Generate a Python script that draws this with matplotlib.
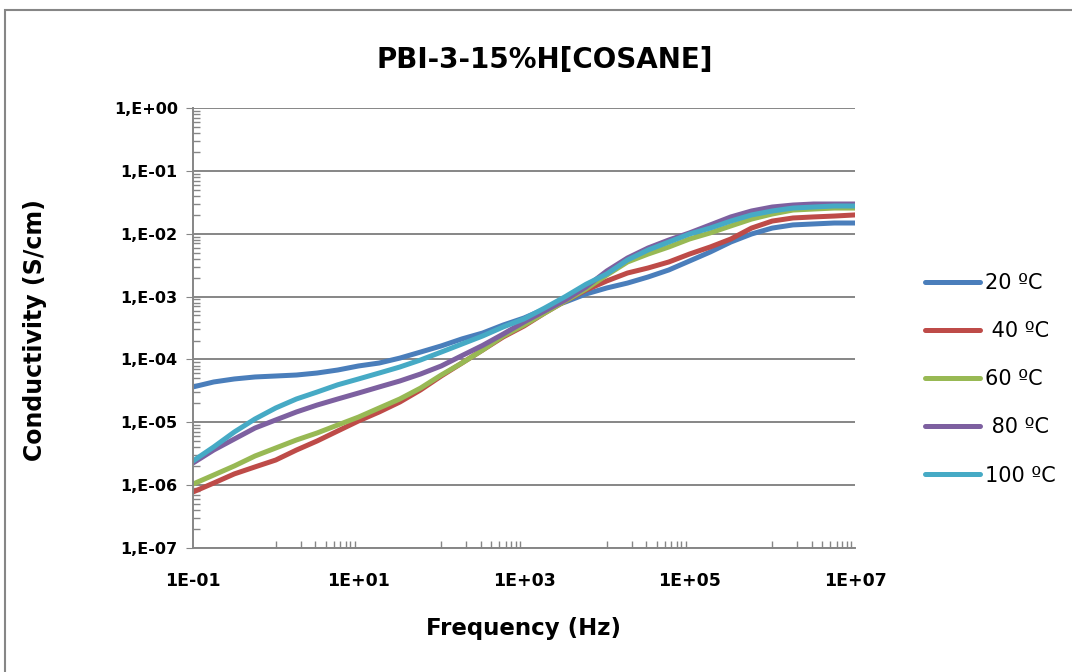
import numpy as np
import matplotlib
matplotlib.use("Agg")
import matplotlib.pyplot as plt
from matplotlib.patches import Rectangle
from matplotlib.ticker import FixedLocator, NullFormatter

plt.rcParams['font.family'] = ['DejaVu Sans']

# Frequency points (Hz), quarter-decade steps
freq = [1e-1, 1.78e-1, 3.16e-1, 5.62e-1, 1e0, 1.78e0, 3.16e0, 5.62e0,
        1e1, 1.78e1, 3.16e1, 5.62e1, 1e2, 1.78e2, 3.16e2, 5.62e2,
        1e3, 1.78e3, 3.16e3, 5.62e3, 1e4, 1.78e4, 3.16e4, 5.62e4,
        1e5, 1.78e5, 3.16e5, 5.62e5, 1e6, 1.78e6, 3.16e6, 5.62e6, 1e7]

# Conductivity (S/cm) per temperature
cond_20 = [3.65e-5, 4.38e-5, 4.89e-5, 5.26e-5, 5.45e-5, 5.65e-5, 6.08e-5, 6.79e-5,
           7.87e-5, 8.77e-5, 1.05e-4, 1.31e-4, 1.64e-4, 2.12e-4, 2.63e-4, 3.53e-4,
           4.56e-4, 6.34e-4, 8.2e-4, 1.10e-3, 1.37e-3, 1.64e-3, 2.05e-3, 2.65e-3,
           3.68e-3, 5.12e-3, 7.38e-3, 9.9e-3, 1.23e-2, 1.38e-2, 1.43e-2, 1.48e-2, 1.48e-2]
cond_40 = [7.78e-7, 1.08e-6, 1.51e-6, 1.95e-6, 2.51e-6, 3.62e-6, 5.04e-6, 7.28e-6,
           1.05e-5, 1.46e-5, 2.10e-5, 3.27e-5, 5.45e-5, 8.77e-5, 1.41e-4, 2.28e-4,
           3.40e-4, 5.48e-4, 8.51e-4, 1.27e-3, 1.77e-3, 2.37e-3, 2.85e-3, 3.55e-3,
           4.75e-3, 6.15e-3, 8.24e-3, 1.23e-2, 1.59e-2, 1.78e-2, 1.85e-2, 1.91e-2, 1.99e-2]
cond_60 = [1.04e-6, 1.45e-6, 2.02e-6, 2.91e-6, 3.90e-6, 5.23e-6, 6.76e-6, 9.06e-6,
           1.21e-5, 1.69e-5, 2.35e-5, 3.5e-5, 5.65e-5, 8.77e-5, 1.41e-4, 2.36e-4,
           3.53e-4, 5.48e-4, 8.51e-4, 1.32e-3, 2.20e-3, 3.55e-3, 4.75e-3, 6.15e-3,
           8.24e-3, 1.03e-2, 1.33e-2, 1.71e-2, 2.06e-2, 2.38e-2, 2.47e-2, 2.56e-2, 2.56e-2]
cond_80 = [2.25e-6, 3.62e-6, 5.42e-6, 8.11e-6, 1.09e-5, 1.46e-5, 1.88e-5, 2.35e-5,
           2.92e-5, 3.65e-5, 4.54e-5, 5.86e-5, 7.87e-5, 1.15e-4, 1.67e-4, 2.54e-4,
           3.94e-4, 5.90e-4, 8.83e-4, 1.42e-3, 2.55e-3, 4.11e-3, 5.93e-3, 7.94e-3,
           1.03e-2, 1.38e-2, 1.85e-2, 2.30e-2, 2.66e-2, 2.86e-2, 2.97e-2, 2.97e-2, 2.97e-2]
cond_100 = [2.42e-6, 4.05e-6, 7.01e-6, 1.13e-5, 1.69e-5, 2.35e-5, 3.03e-5, 3.95e-5,
            4.89e-5, 6.08e-5, 7.58e-5, 9.8e-5, 1.31e-4, 1.76e-4, 2.36e-4, 3.29e-4,
            4.41e-4, 6.58e-4, 1.0e-3, 1.57e-3, 2.29e-3, 3.82e-3, 5.51e-3, 7.38e-3,
            9.9e-3, 1.23e-2, 1.59e-2, 1.99e-2, 2.30e-2, 2.56e-2, 2.66e-2, 2.76e-2, 2.76e-2]

labels = ["20 ºC", " 40 ºC", "60 ºC", " 80 ºC", "100 ºC"]
colors = ["#4A7EBB", "#BE4B48", "#98B954", "#7D60A0", "#46AAC5"]

x_ticks = [1e-1, 1e1, 1e3, 1e5, 1e7]
x_ticklabels = ["1E-01", "1E+01", "1E+03", "1E+05", "1E+07"]
y_ticks = [1e-7, 1e-6, 1e-5, 1e-4, 1e-3, 1e-2, 1e-1, 1e0]
y_ticklabels = ["1,E-07", "1,E-06", "1,E-05", "1,E-04", "1,E-03", "1,E-02", "1,E-01", "1,E+00"]

grey = "#868686"
W, H = 1072, 672

fig = plt.figure(figsize=(W / 100, H / 100), dpi=100)
# chart-area border (left and top edges visible, the rest runs off the picture)
fig.patches.append(Rectangle((5 / W, -0.05), 1.1, 1 - 10 / H + 0.05,
                             transform=fig.transFigure, fill=False,
                             edgecolor=grey, linewidth=1.5))

ax = fig.add_axes([193 / W, 1 - 548 / H, 662 / W, 440 / H])

for ys, lab, col in zip([cond_20, cond_40, cond_60, cond_80, cond_100], labels, colors):
    ax.plot(freq, ys, color=col, linewidth=3.6, label=lab,
            solid_capstyle='round', solid_joinstyle='round')

ax.set_xscale('log')
ax.set_yscale('log')
ax.set_xlim(1e-1, 1e7)
ax.set_ylim(1e-7, 1e0)

ax.set_xticks(x_ticks)
ax.set_xticklabels(x_ticklabels, fontsize=12.5, fontweight='bold')
ax.set_yticks(y_ticks)
ax.set_yticklabels(y_ticklabels, fontsize=11.5, fontweight='bold')

# Excel-style minor ticks: x only in the unlabeled odd decades
x_minor = [m * 10.0 ** d for d in (0, 2, 4, 6) for m in range(1, 10)]
ax.xaxis.set_minor_locator(FixedLocator(x_minor))
ax.xaxis.set_minor_formatter(NullFormatter())
ax.yaxis.set_minor_locator(FixedLocator([m * 10.0 ** d for d in range(-7, 0) for m in range(2, 10)]))
ax.yaxis.set_minor_formatter(NullFormatter())

ax.tick_params(axis='y', which='major', length=5, color=grey, direction='out', pad=6)
ax.tick_params(axis='x', which='major', length=0, pad=17)
ax.tick_params(axis='both', which='minor', length=5, color=grey, direction='in', width=1)

ax.grid(axis='y', which='major', color=grey, linewidth=1.4)
ax.set_axisbelow(True)
for s in ['top', 'right']:
    ax.spines[s].set_visible(False)
for s in ['left', 'bottom']:
    ax.spines[s].set_color(grey)
    ax.spines[s].set_linewidth(1.4)

fig.text(523 / W, 1 - 628 / H, "Frequency (Hz)", ha='center', va='center',
         fontsize=16.5, fontweight='bold')
fig.text(35 / W, 1 - 330 / H, "Conductivity (S/cm)", ha='center', va='center',
         rotation=90, fontsize=17, fontweight='bold')
fig.text(545 / W, 1 - 60 / H, "PBI-3-15%H[COSANE]", ha='center', va='center',
         fontsize=20, fontweight='bold')

fig.legend(loc='upper left', bbox_to_anchor=(925 / W, 1 - 273 / H), frameon=False,
           fontsize=15, handlelength=2.65, handletextpad=0.25, labelspacing=1.35,
           borderaxespad=0, borderpad=0)

fig.savefig("out.png", dpi=100)
